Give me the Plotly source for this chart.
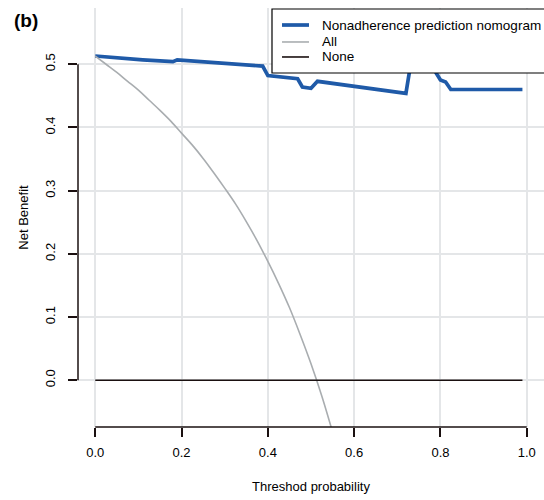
import plotly.graph_objects as go

# Threshold probabilities and net benefit values
model_x = [0.0, 0.05, 0.104, 0.11, 0.18, 0.19, 0.388, 0.40, 0.469, 0.48, 0.50, 0.515,
           0.72, 0.737, 0.775, 0.79, 0.80, 0.812, 0.824, 0.99]
model_y = [0.513, 0.510, 0.506, 0.507, 0.504, 0.507, 0.497, 0.482, 0.477, 0.464, 0.462, 0.473,
           0.454, 0.525, 0.525, 0.486, 0.475, 0.472, 0.460, 0.460]

all_x = [0.0, 0.025, 0.05, 0.075, 0.1, 0.125, 0.15, 0.175, 0.2, 0.225, 0.25, 0.275, 0.3,
         0.325, 0.35, 0.375, 0.4, 0.425, 0.45, 0.475, 0.5, 0.525, 0.55]
all_y = [0.513, 0.500, 0.487, 0.473, 0.459, 0.443, 0.427, 0.410, 0.391, 0.372, 0.351, 0.328, 0.304,
         0.279, 0.251, 0.221, 0.188, 0.153, 0.115, 0.072, 0.026, -0.025, -0.082]

none_x = [0.0, 0.99]
none_y = [0.0, 0.0]

series_names = ["Nonadherence prediction nomogram", "All", "None"]

x_ticks = [0.0, 0.2, 0.4, 0.6, 0.8, 1.0]
x_ticklabels = ["0.0", "0.2", "0.4", "0.6", "0.8", "1.0"]
y_ticks = [0.0, 0.1, 0.2, 0.3, 0.4, 0.5]
y_ticklabels = ["0.0", "0.1", "0.2", "0.3", "0.4", "0.5"]

FONT = "Liberation Sans, Arial, sans-serif"
AXIS_COLOR = "#1a1010"
colors = ["#1f5aa8", "#a9adb0", AXIS_COLOR]
widths = [3.7, 1.6, 1.6]

fig = go.Figure()
fig.add_trace(go.Scatter(x=model_x, y=model_y, mode="lines", name=series_names[0],
                         line=dict(color=colors[0], width=widths[0]), showlegend=False))
fig.add_trace(go.Scatter(x=all_x, y=all_y, mode="lines", name=series_names[1],
                         line=dict(color=colors[1], width=widths[1], shape="spline"), showlegend=False))
fig.add_trace(go.Scatter(x=none_x, y=none_y, mode="lines", name=series_names[2],
                         line=dict(color=colors[2], width=widths[2]), showlegend=False))

# R-style axis lines spanning only the tick range
fig.add_shape(type="line", xref="x", yref="paper", x0=x_ticks[0], x1=x_ticks[-1], y0=0, y1=0,
              line=dict(color=AXIS_COLOR, width=1.5))
fig.add_shape(type="line", xref="paper", yref="y", x0=0, x1=0, y0=y_ticks[0], y1=y_ticks[-1],
              line=dict(color=AXIS_COLOR, width=1.5))

# Legend box (R-style, opaque, partly cut off at the right edge)
fig.add_shape(type="rect", xref="paper", yref="paper", x0=0.4163, x1=1.03, y0=0.8449, y1=0.9976,
              fillcolor="white", line=dict(color="black", width=1.2), layer="above")
row_y = [0.9594, 0.9189, 0.8831]
for name, c, w, ry in zip(series_names, colors, widths, row_y):
    fig.add_shape(type="line", xref="paper", yref="paper", x0=0.4378, x1=0.4957, y0=ry, y1=ry,
                  line=dict(color=c, width=w), layer="above")
    fig.add_annotation(text=name, xref="paper", yref="paper", x=0.5193, y=ry,
                       xanchor="left", yanchor="middle", showarrow=False,
                       font=dict(family=FONT, size=13.5, color="black"))

fig.add_annotation(text="<b>(b)</b>", xref="paper", yref="paper", x=-0.142, y=0.969,
                   xanchor="left", yanchor="middle", showarrow=False,
                   font=dict(family=FONT, size=19, color="black"))

fig.update_layout(
    width=544, height=500,
    margin=dict(l=78, r=0, t=8, b=73, autoexpand=False),
    paper_bgcolor="white", plot_bgcolor="white",
    font=dict(family=FONT, size=13, color="black"),
    showlegend=False,
)
fig.update_xaxes(range=[-0.04, 1.04], tickvals=x_ticks, ticktext=x_ticklabels,
                 showgrid=True, gridcolor="#e4e6e8", gridwidth=1.5, zeroline=False, showline=False,
                 ticks="outside", ticklen=9, tickwidth=1.5, tickcolor=AXIS_COLOR, ticklabelstandoff=4,
                 tickfont=dict(size=13), title=dict(text="Threshod probability", font=dict(size=13), standoff=23))
fig.update_yaxes(range=[-0.074, 0.589], tickvals=y_ticks, ticktext=y_ticklabels,
                 showgrid=True, gridcolor="#e4e6e8", gridwidth=1.5, zeroline=False, showline=False,
                 ticks="outside", ticklen=9, tickwidth=1.5, tickcolor=AXIS_COLOR, tickangle=-90,
                 ticklabelstandoff=8,
                 tickfont=dict(size=13), title=dict(text="Net Benefit", font=dict(size=13), standoff=11))

fig.write_html("out.html", config={"displayModeBar": False},
               post_script="document.body.style.margin='0';")
